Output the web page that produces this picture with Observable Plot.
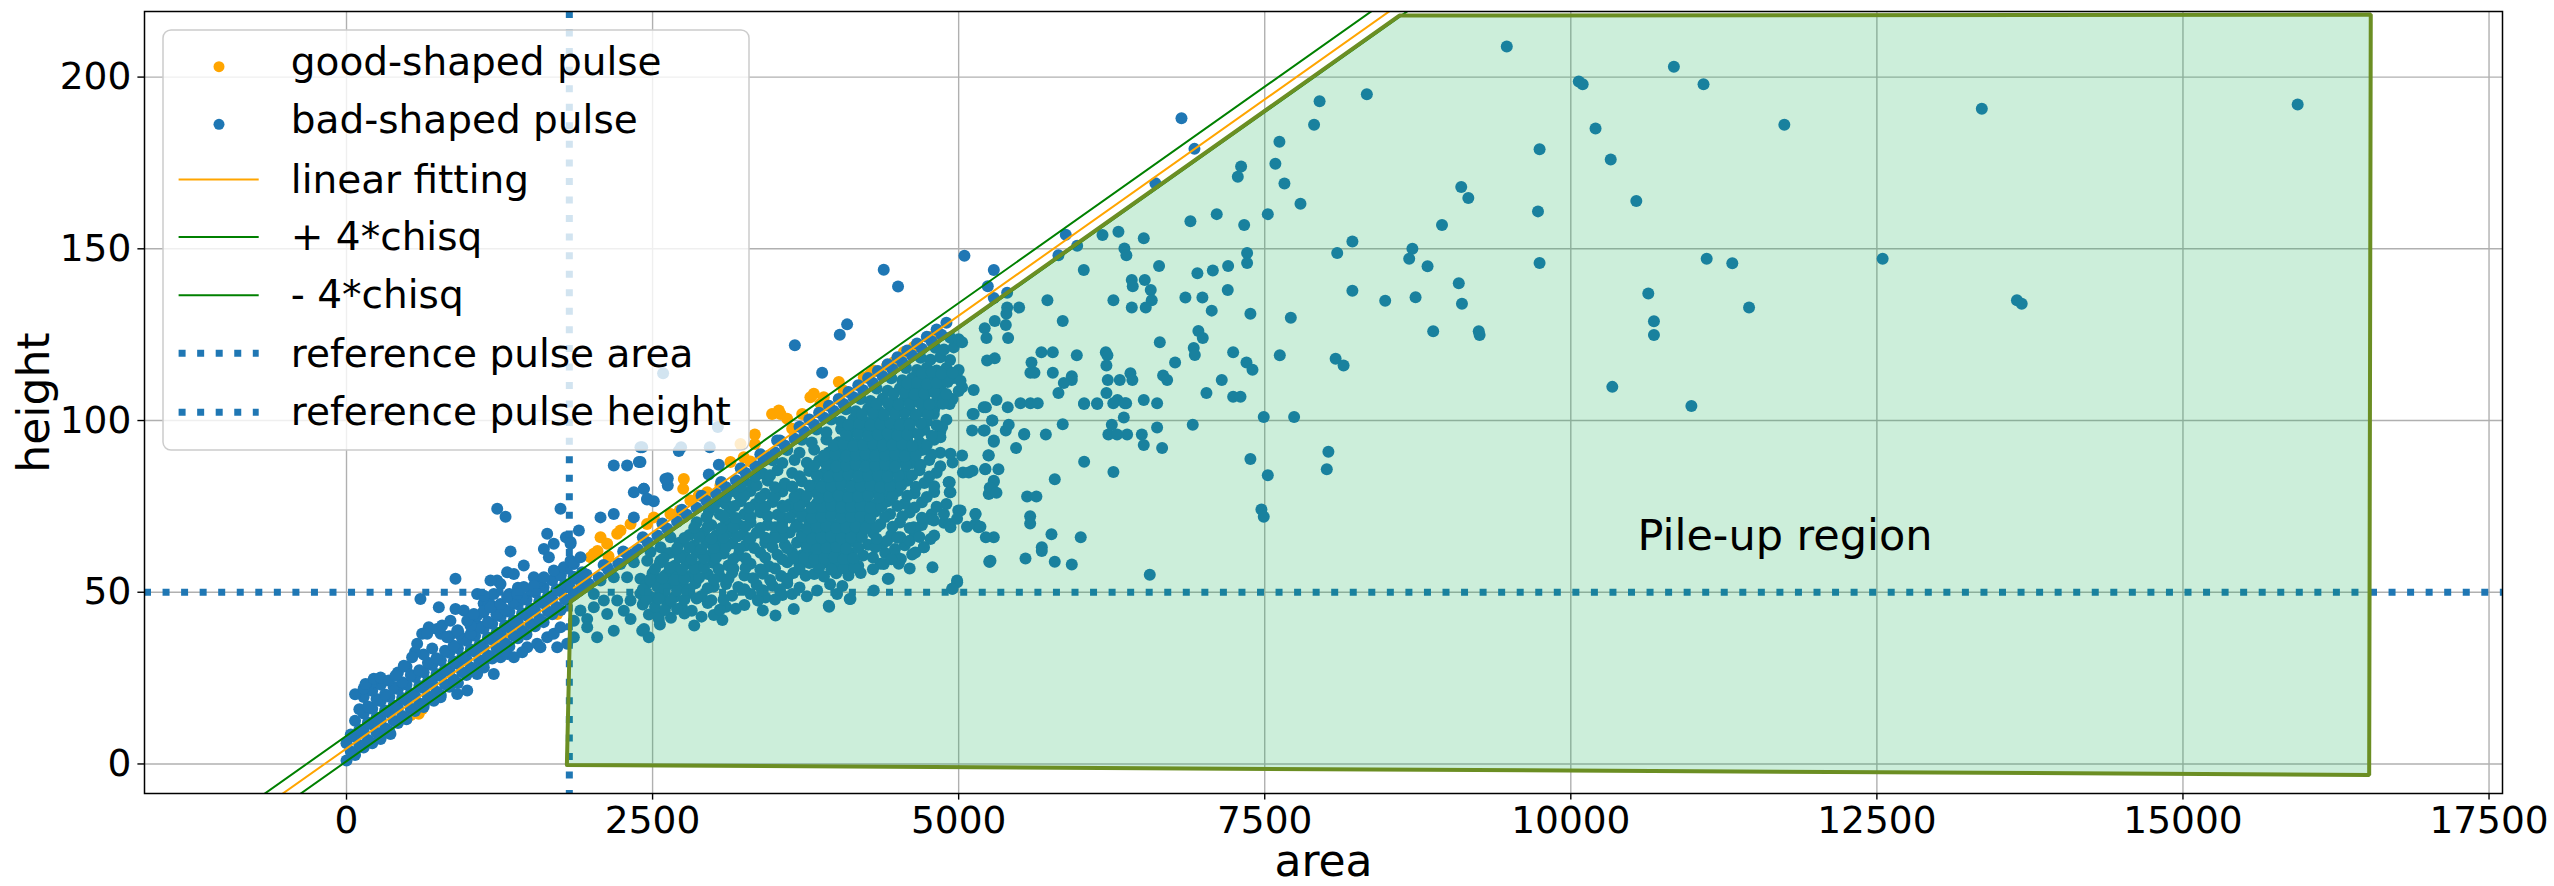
<!DOCTYPE html>
<html><head><meta charset="utf-8">
<script src="https://cdn.jsdelivr.net/npm/d3@7"></script>
<script src="https://cdn.jsdelivr.net/npm/@observablehq/plot@0.6"></script>
<style>
html,body{margin:0;padding:0;background:#fff;}
#wrap{position:relative;width:2554px;height:886px;font-family:"DejaVu Sans",sans-serif;}
#wrap svg{display:block;}
#legend{position:absolute;left:0;top:0;pointer-events:none;}
</style></head>
<body><div id="wrap"></div>
<script>
// ---- axis ticks ----
const xTicks = [0, 2500, 5000, 7500, 10000, 12500, 15000, 17500];
const yTicks = [0, 50, 100, 150, 200];

// ---- fit parameters ----
const fitSlope = 0.0252, fitIntercept = 4.5, chisqBand = 3.7;
const fitAreaRange = [-1650, 9000];
const refArea = 1820, refHeight = 50;

// ---- pile-up polygon (area, height) ----
const pileupPolygon = [[1800,-0.3],[1830,47.3],[8600,217.9],[16534,218.2],[16521,-3.2],[1800,-0.3]];
const pileupLabel = [{area:10545, height:66.2, text:"Pile-up region"}];

// ---- good-shaped pulses ----
const goodPts = [[523,14.2],[560,15.3],[590,14.6],[618,16.0],[580,16.6],
[1122,30.1],[1231,33.0],[1285,35.0],[1299,37.9],[1367,37.9],[1435,39.3],[1503,40.3],[1584,41.7],[1721,43.7],
[1993,60.2],[2020,61.2],[2050,62.0],[2075,66.0],[2129,64.1],[2140,60.5],[2211,67.0],[2238,68.0],[2320,69.9],[2455,69.9],[2510,71.8],[2646,72.8],[2722,73.8],[2755,71.8],[2755,83.0],[2750,80.1],[2809,76.7],[2877,78.2],[2946,79.1],[3054,81.1],[3136,87.9],[3245,89.3],[3299,88.1],[3335,95.9],[3335,93.2],[3476,101.9],[3545,101.9],[3599,100.5],[3531,102.9],[3640,97.6],[3722,101.9],[3789,106.8],[3817,107.8],[3871,104.9],[3898,106.8],[4021,111.2],[4062,108.7],[4225,112.6],[4279,113.6],[4307,114.6],[4416,116.0],[4470,117.0],[4552,119.9],[4633,121.4],[4770,124.3],[4824,125.2],[3218,93.2]];

// ---- bad-shaped pulses: dense band along the fit, area 0-2000 ----
const badLowBand = [
[0,1.0],[70,2.6],[140,4.8],[210,6.0],[280,8.3],[350,9.5],[420,11.9],[490,13.0],[560,15.4],[630,16.6],[700,18.9],[770,20.1],[840,22.5],[910,23.6],[980,25.9],[1050,27.2],[1120,29.5],[1190,30.7],[1260,33.1],[1330,34.2],[1400,36.6],[1470,37.7],[1540,40.1],[1610,41.3],[1680,43.6],[1750,44.8],
[35,3.6],[105,5.5],[175,7.0],[245,9.1],[315,10.4],[385,12.6],[455,14.0],[525,16.1],[595,17.5],[665,19.7],[735,21.0],[805,23.2],[875,24.6],[945,26.7],[1015,28.1],[1085,30.2],[1155,31.6],[1225,33.8],[1295,35.1],[1365,37.3],[1435,38.7],[1505,40.8],[1575,42.2],[1645,44.4],[1715,45.7],[1785,47.9],[1855,49.3],[1925,51.4],
[0,6.0],[70,7.9],[140,9.4],[210,11.5],[280,12.9],[350,15.0],[420,16.4],[490,18.5],[560,19.9],[630,22.1],[700,23.4],[770,25.6],[840,27.0],[910,29.1],[980,30.5],[1050,32.7],[1120,34.0],[1190,36.2],[1260,37.6],[1330,39.7],[1400,41.1],[1470,43.2],[1540,44.6],[1610,46.8],[1680,48.1],[1750,50.3],[1820,51.7],[1890,53.8],[1960,55.2],
[35,8.6],[105,10.0],[175,12.1],[245,13.5],[315,15.6],[385,17.0],[455,19.2],[525,20.5],[595,22.7],[665,24.1],[735,26.2],[805,27.6],[875,29.8],[945,31.1],[1015,33.3],[1085,34.6],[1155,36.8],[1225,38.2],[1295,40.3],[1365,41.7],[1435,43.9],[1505,45.2],[1575,47.4],[1645,48.8],[1715,50.9],[1785,52.3],[1855,54.5],[1925,55.8],
[70,12.6],[140,14.7],[210,16.1],[280,18.3],[350,19.6],[420,21.8],[490,23.1],[560,25.3],[630,26.7],[700,28.8],[770,30.2],[840,32.4],[910,33.7],[980,35.9],[1050,37.3],[1120,39.4],[1190,40.8],[1260,43.0],[1330,44.3],[1400,46.5],[1470,47.8],[1540,50.0],[1610,51.4],[1680,53.5],[1750,54.9],
[105,15.9],[175,16.7],[245,18.9],[315,20.2],[385,22.4],[455,23.8],[525,25.9],[595,27.3],[665,29.5],[735,30.8],[805,33.0],[875,34.4],[945,36.5],[1015,37.9],[1085,40.0],[1155,41.4],[1225,43.6],[1295,44.9],[1365,47.1],[1435,48.5],[1505,50.6],[1575,52.0],
[140,19.5],[210,21.3],[280,23.1],[420,26.6],[490,28.3],[630,31.9],[700,33.6],[840,37.2],[910,38.9],[1050,42.5],[1120,44.2],[1190,46.0],[1330,49.5],[1400,51.3],
[70,20.3],[140,22.0],[210,23.8],[560,32.6],[770,37.9],[1120,46.7]];

// ---- bad-shaped pulses: scatter above / below the low band ----
const badLowScatter = [[155,23.3],[223,24.8],[278,25.2],[346,24.3],[400,25.7],[468,28.6],[536,31.1],[577,35.0],[618,37.9],[672,39.8],[740,39.3],[781,40.3],[604,48.0],[754,45.6],[890,53.9],[890,45.1],[958,44.7],[849,41.7],[917,37.9],[1013,40.3],[1067,43.2],[1122,44.6],[1162,47.1],[1203,49.5],[1067,49.5],[1122,49.0],[1230,53.4],[1258,52.4],[1312,55.8],[1367,55.3],[1448,57.8],[1231,74.3],[1299,72.0],[1340,61.9],[1639,67.0],[1612,62.6],[1693,64.1],[1653,60.2],[1748,74.3],[1830,64.6],[1898,68.0],[1584,53.4],[1530,54.4],[1176,53.4],[659,37.9],[822,36.9],[904,38.8],[986,41.7],[1040,43.7],[1176,45.6],[1258,46.6],[1312,48.6],[1394,49.5],[1448,51.5],[1530,51.9],[1612,54.4],[1693,56.3],[1775,57.3],[1830,59.2],[1857,58.2],[1911,60.2],[1792,66.0],[1830,64.1],
[768,19.4],[904,20.4],[1067,26.2],[1122,28.1],[1258,31.1],[1312,32.0],[1367,31.1],[1476,34.0],[1557,35.0],[1639,36.9],[1693,37.9],[1721,34.0],[1748,39.8],[359,8.7],[278,7.3],[632,17.5],[713,18.4],[986,21.4],[1203,26.2],[1435,32.5],[1584,34.0],[1802,35.0],[1857,36.9]];

// ---- bad-shaped pulses: band along fit, area 1900-5000 ----
const badMidBand = [[1900,50.4],[1980,52.4],[2060,54.4],[2140,56.4],[2220,58.4],[2300,60.5],[2380,62.5],[2460,64.5],[2540,66.5],[2620,68.5],[2700,70.5],[2780,72.6],[2860,74.6],[2940,76.6],[3020,78.6],[3100,80.6],[3180,82.6],[3260,84.7],[3340,86.7],[3420,88.7],[3500,90.7],[3580,92.7],[3660,94.7],[3740,96.7],[3820,98.8],[3900,100.8],[3980,102.8],[4060,104.8],[4140,106.8],[4220,108.8],[4300,110.9],[4380,112.9],[4460,114.9],[4540,116.9],[4620,118.9],[4700,120.9],[4780,123.0],[4860,125.0],
[1940,53.9],[2100,57.9],[2260,61.9],[2420,66.0],[2580,70.0],[2740,74.0],[2900,78.1],[3060,82.1],[3220,86.1],[3380,90.2],[3540,94.2],[3700,98.2],[3780,100.3],[3860,102.3],[3940,104.3],[4020,106.3],[4100,108.3],[4180,110.3],[4260,112.4],[4340,114.4],[4420,116.4],[4500,118.4],[4580,120.4],[4660,122.4],[4740,124.4],[4820,126.5],[4900,128.5]];

// ---- bad-shaped pulses: outliers above the fit ----
const badAbove = [[2401,87.9],[2428,80.1],[2455,77.0],[2510,76.5],[2624,83.2],[2624,81.1],[2733,92.2],[2714,91.1],[2586,113.8],[3033,98.1],[2967,92.2],[2401,92.2],[2959,84.3],[3041,87.1],[3430,89.5],[3408,88.3],[3517,94.2],[3662,121.9],[3885,113.9],[4089,128.0],[4029,125.0],[4388,143.9],[4505,139.0],[5047,148.0],[5287,143.8],[5238,139.1],[5287,135.7],[5396,137.2],[2347,79.1],[2429,80.1],[2456,77.2],[2605,83.0],[2075,71.8],[2183,72.8],[2347,71.8],[2183,86.9],[2292,86.9],[2388,87.9],[2415,92.2]];

// ---- bad-shaped pulses: dense cloud inside the pile-up region ----
const badCloud = [[1857,41.7],[1966,42.2],[2047,36.9],[1966,39.8],[2183,38.8],[2320,42.2],[2415,38.8],[2469,36.9],[2551,42.2],[2020,49.5],[2102,47.6],[2211,47.6],[2320,47.6],[2429,48.5],[2537,48.5],[2075,53.4],[2183,54.4],[2292,54.4],[2401,53.9],[2510,53.4],[2619,55.3],[2129,57.3],[2238,58.2],[2347,58.7],[2456,59.2],[2565,59.2],[2619,61.2],[2347,61.2],[2483,61.7],[2565,63.1],[2020,45.6],[1911,44.7],[2129,43.7],[2265,44.6],[2646,66.0],
[2430,39.3],[2560,40.6],[2840,40.3],[3070,41.9],
[2470,43.5],[2550,43.2],[2650,42.6],[2760,43.8],[2900,42.9],[3000,43.4],[3504,43.2],
[2420,46.4],[2520,45.7],[2620,46.6],[2740,45.6],[2950,46.9],[3100,45.8],[3250,46.3],[3653,45.1],[3939,46.1],
[2400,49.6],[2480,48.7],[2580,49.3],[2680,48.6],[2800,49.8],[2900,48.9],[3150,49.0],[3300,49.5],[3422,48.5],[3560,49.2],[3640,49.5],[3760,48.8],[4007,49.5],[4110,48.0],
[2450,52.3],[2540,51.6],[2650,52.5],[2750,51.8],[2850,52.6],[3000,51.7],[3100,52.4],[3200,51.5],[3350,52.2],[3480,51.9],[3600,52.6],[3700,51.4],[3844,50.5],[3950,52.3],[4050,51.8],[4307,50.5],[4947,51.0],
[2500,55.5],[2600,54.8],[2700,55.6],[2800,54.7],[2950,55.3],[3050,54.6],[3150,55.7],[3250,54.9],[3400,55.4],[3550,54.7],[3650,55.6],[3750,54.8],[3820,55.3],[3900,54.6],[4000,55.5],[4100,54.9],[4200,55.6],[4429,53.9],[4987,53.4],
[2560,58.6],[2680,57.7],[2780,58.4],[2880,57.6],[3000,58.5],[3120,57.8],[3300,58.3],[3450,57.6],[3600,58.7],[3700,57.9],[3780,58.5],[3860,57.6],[3940,58.4],[4020,57.8],[4100,58.6],[4180,57.7],[4361,58.3],[4511,58.3],[5250,58.9],
[2640,61.4],[2760,60.8],[2860,61.5],[2960,60.6],[3080,61.3],[3200,60.7],[3380,61.5],[3520,60.9],[3640,61.6],[3720,60.8],[3800,61.4],[3880,60.6],[3960,61.5],[4040,60.8],[4120,61.3],[4220,60.7],[4400,61.4],[4620,61.0],[4497,60.2],
[2720,64.4],[2840,63.6],[2940,64.5],[3040,63.7],[3150,64.3],[3260,63.6],[3420,64.4],[3580,63.8],[3680,64.5],[3760,63.6],[3840,64.3],[3920,63.7],[4000,64.5],[4080,63.6],[4160,64.4],[4260,63.8],[4380,64.2],[4560,63.7],[4715,63.1],
[2800,66.7],[2920,67.4],[3020,66.6],[3130,67.5],[3240,66.8],[3350,67.3],[3500,66.6],[3620,67.4],[3720,66.7],[3800,67.5],[3880,66.6],[3960,67.3],[4040,66.8],[4120,67.4],[4200,66.6],[4300,67.3],[4450,66.7],[4640,67.2],[4800,66.5],
[2860,70.4],[2980,69.6],[3100,70.5],[3200,69.7],[3300,70.3],[3440,69.6],[3560,70.4],[3680,69.8],[3780,70.5],[3860,69.6],[3940,70.3],[4020,69.7],[4100,70.4],[4180,69.6],[4260,70.5],[4360,69.8],[4520,70.3],[4700,69.6],[4880,70.2],
[2960,73.4],[3050,72.6],[3130,73.5],[3250,72.7],[3380,73.3],[3520,72.6],[3660,73.4],[3760,72.8],[3840,73.5],[3920,72.6],[4000,73.3],[4080,72.7],[4160,73.4],[4240,72.6],[4320,73.5],[4440,72.8],[4600,73.2],[4780,72.7],
[3040,76.4],[3100,75.6],[3220,76.5],[3340,75.7],[3480,76.3],[3620,75.6],[3740,76.4],[3840,75.8],[3920,76.5],[4000,75.6],[4080,76.3],[4160,75.7],[4240,76.4],[4320,75.6],[4420,76.5],[4560,75.8],[4700,76.2],[4900,75.7],
[3140,79.4],[3200,78.6],[3300,79.5],[3420,78.7],[3560,79.3],[3700,78.6],[3820,79.4],[3900,78.8],[3980,79.5],[4060,78.6],[4140,79.3],[4220,78.7],[4300,79.4],[4400,78.6],[4500,79.5],[4640,78.8],[4800,79.2],
[3250,82.4],[3320,81.6],[3440,82.5],[3580,81.7],[3720,82.3],[3840,81.6],[3920,82.4],[4000,81.8],[4080,82.5],[4160,81.6],[4240,82.3],[4320,81.7],[4400,82.4],[4480,81.6],[4580,82.5],[4720,81.8],[4919,82.0],
[3360,85.4],[3400,84.6],[3520,85.5],[3640,84.7],[3780,85.3],[3900,84.6],[3980,85.4],[4060,84.8],[4140,85.5],[4220,84.6],[4300,85.3],[4380,84.7],[4460,85.4],[4560,84.6],[4680,85.5],[4820,84.8],
[3480,88.4],[3560,87.6],[3660,88.5],[3760,87.7],[3860,88.3],[3960,87.6],[4040,88.4],[4120,87.8],[4200,88.5],[4280,87.6],[4360,88.3],[4440,87.7],[4520,88.4],[4620,87.6],[4760,88.5],[4950,87.8],
[3600,91.4],[3700,90.6],[3820,91.5],[3940,90.7],[4040,91.3],[4120,90.6],[4200,91.4],[4280,90.8],[4360,91.5],[4440,90.6],[4520,91.3],[4600,90.7],[4700,91.4],[4850,90.6],
[3720,94.4],[3800,93.6],[3920,94.5],[4020,93.7],[4100,94.3],[4180,93.6],[4260,94.4],[4340,93.8],[4420,94.5],[4500,93.6],[4580,94.3],[4680,93.7],[4800,94.4],
[3840,97.4],[3920,96.6],[4040,97.5],[4140,96.7],[4220,97.3],[4300,96.6],[4380,97.4],[4460,96.8],[4540,97.5],[4620,96.6],[4720,97.3],[4850,96.7],
[3960,100.3],[4040,99.7],[4140,100.4],[4240,99.6],[4320,100.3],[4400,99.7],[4480,100.4],[4560,99.6],[4640,100.3],[4740,99.7],[4900,100.2],
[4080,103.3],[4160,102.7],[4260,103.4],[4350,102.6],[4440,103.3],[4520,102.7],[4600,103.4],[4700,102.6],[4800,103.3],
[4200,106.3],[4280,105.7],[4380,106.4],[4470,105.6],[4560,106.3],[4640,105.7],[4720,106.4],[4820,105.6],[4950,106.3],
[4330,109.3],[4420,108.7],[4520,109.4],[4600,108.6],[4680,109.3],[4760,108.7],[4850,109.4],[5000,108.6],
[4450,112.3],[4540,111.7],[4620,112.4],[4700,111.6],[4780,112.3],[4870,111.7],[4960,112.4],
[4570,115.3],[4660,114.7],[4740,115.4],[4820,114.6],[4900,115.3],[5000,114.7],
[4690,118.3],[4770,117.7],[4850,118.4],[4930,117.6],
[4810,121.2],[4880,120.7],[4960,121.3],
[4930,124.2],[5000,123.7],
[4927,104.8],[5114,101.9],[5114,85.4],[5035,84.9],[4927,82.0],[4927,79.1],[4997,73.8],[5138,72.8],[4927,69.9],[5068,69.1],[5161,68.9],[4988,52.9],[4950,51.0],[4786,57.3],[4716,63.1],[4763,71.3],[4880,72.8],[4116,48.0],[3942,45.8],[4421,53.9],[4388,58.2],[4528,59.7],[4646,61.6],[4599,65.0],[4646,67.9],[4505,66.0],
[5028,122.8],[5123,108.9],[5232,117.5],[5205,103.9],[5273,100.0],[5205,97.1],[5287,94.2],[5246,89.8],[5219,85.9],[5287,82.5],[5246,78.6],[5123,101.9],[5110,97.1],[5028,89.8],[5083,84.9],[4919,82.0],[4933,79.1],[5015,73.8],[5137,72.8],[5137,69.9],[5287,66.0],[5260,59.2],[4987,71.4],[4933,68.9],[4797,70.9],[4770,65.5],[4633,68.9],[4524,66.0],[4416,65.0],[4865,98.1],[4797,101.9],[4933,90.3],[4851,95.1],[4906,112.6],[4865,107.8],[5028,109.7],[5015,111.6]];

// ---- bad-shaped pulses: in-between dots of the left cloud (2400-3600) ----
const badLeftFill = [[2600,44.8],[2700,45.1],[2820,44.6],[3050,44.9],[3180,45.2],[3400,44.7],
[2450,47.8],[2550,48.1],[2650,47.6],[2760,47.9],[2860,48.2],[2980,47.7],[3080,47.9],[3360,47.6],[3500,47.9],
[2420,50.8],[2600,51.1],[2700,50.6],[2800,50.9],[2950,51.2],[3250,50.9],[3400,50.6],[3540,50.8],
[2480,53.8],[2580,54.1],[2680,53.6],[2760,53.9],[2880,54.2],[3000,53.7],[3120,53.9],[3320,54.1],[3460,53.6],[3600,53.9],
[2520,56.8],[2640,57.1],[2740,56.6],[2840,56.9],[2920,57.2],[3040,56.7],[3160,56.9],[3260,57.1],[3380,56.6],[3500,56.9],
[2590,59.8],[2720,60.1],[2820,59.6],[2920,59.9],[3020,60.2],[3160,59.7],[3260,59.9],[3420,60.1],[3560,59.6],
[2700,62.8],[2800,63.1],[2900,62.6],[3000,62.9],[3100,63.2],[3210,62.7],[3330,62.9],[3480,63.1],
[2760,65.8],[2880,66.1],[2980,65.6],[3080,65.9],[3190,66.2],[3300,65.7],[3420,65.9],[3560,66.1],
[2840,68.8],[2950,69.1],[3060,68.6],[3160,68.9],[3260,69.2],[3380,68.7],[3500,68.9],
[2940,71.8],[3080,72.1],[3180,71.6],[3300,71.9],[3440,72.2],[3560,71.7],
[3000,74.8],[3170,75.1],[3290,74.6],[3420,74.9],[3560,75.2],
[3100,77.8],[3250,78.1],[3380,77.6],[3500,77.9],
[3220,80.8],[3350,81.1],[3500,80.6],
[3340,83.8],[3460,84.1]];

// ---- bad-shaped pulses: densest plume (3500-5000), in-between dots ----
const badPlume = [[3700,56.8],[3860,57.1],[3960,56.6],[4060,56.9],[4150,57.2],[4300,56.7],[4600,56.9],
[3650,59.8],[3740,60.1],[3820,59.6],[3900,59.9],[3980,60.2],[4060,59.7],[4140,59.9],[4300,60.1],[4450,59.6],
[3600,62.8],[3760,63.1],[3840,62.6],[3920,62.9],[4000,63.2],[4080,62.7],[4180,62.9],[4320,63.1],[4480,62.6],
[3500,65.8],[3720,66.1],[3800,65.6],[3880,65.9],[3960,66.2],[4040,65.7],[4120,65.9],[4210,66.1],[4330,65.6],[4500,65.9],[4680,66.1],
[3560,68.8],[3670,69.1],[3760,68.6],[3840,68.9],[3920,69.2],[4000,68.7],[4080,68.9],[4160,69.1],[4240,68.6],[4330,68.9],[4460,69.1],[4600,68.7],
[3620,71.8],[3720,72.1],[3800,71.6],[3880,71.9],[3960,72.2],[4040,71.7],[4120,71.9],[4200,72.1],[4280,71.6],[4400,71.9],[4540,72.1],[4700,71.7],
[3580,74.8],[3700,75.1],[3800,74.6],[3880,74.9],[3960,75.2],[4040,74.7],[4120,74.9],[4200,75.1],[4280,74.6],[4370,74.9],[4500,75.1],[4640,74.7],[4820,74.9],
[3660,77.8],[3760,78.1],[3860,77.6],[3940,77.9],[4020,78.2],[4100,77.7],[4180,77.9],[4260,78.1],[4350,77.6],[4460,77.9],[4580,78.1],[4740,77.7],
[3640,80.8],[3780,81.1],[3880,80.6],[3960,80.9],[4040,81.2],[4120,80.7],[4200,80.9],[4280,81.1],[4360,80.6],[4440,80.9],[4530,81.1],[4650,80.7],[4800,80.9],
[3700,83.8],[3840,84.1],[3940,83.6],[4020,83.9],[4100,84.2],[4180,83.7],[4260,83.9],[4340,84.1],[4420,83.6],[4510,83.9],[4620,84.1],[4760,83.7],
[3820,86.8],[3920,87.1],[4000,86.6],[4080,86.9],[4160,87.2],[4240,86.7],[4320,86.9],[4400,87.1],[4480,86.6],[4570,86.9],[4690,87.1],[4850,86.7],
[3900,89.8],[3990,90.1],[4080,89.6],[4160,89.9],[4240,90.2],[4320,89.7],[4400,89.9],[4480,90.1],[4560,89.6],[4650,89.9],[4780,90.1],
[3980,92.8],[4060,93.1],[4140,92.6],[4220,92.9],[4300,93.2],[4380,92.7],[4460,92.9],[4540,93.1],[4620,92.6],[4740,92.9],
[4080,95.8],[4180,96.1],[4260,95.6],[4340,95.9],[4420,96.2],[4500,95.7],[4580,95.9],[4670,96.1],[4780,95.6],
[4100,98.8],[4190,99.1],[4280,98.6],[4360,98.9],[4440,99.2],[4520,98.7],[4600,98.9],[4690,99.1],[4820,98.6],
[4210,101.8],[4300,102.1],[4390,101.6],[4480,101.9],[4560,102.2],[4650,101.7],[4750,101.9],
[4330,104.8],[4420,105.1],[4510,104.6],[4600,104.9],[4680,105.2],[4760,104.7],[4870,104.9],
[4470,107.8],[4560,108.1],[4640,107.6],[4720,107.9],[4800,108.2],[4900,107.7],
[4580,110.8],[4660,111.1],[4740,110.6],[4820,110.9],[4910,111.2],
[4700,113.8],[4780,114.1],[4860,113.6],[4950,113.9]];

// ---- bad-shaped pulses: sparse points, area > 5000 ----
const badSparse = [[7620,181.2],[7587,174.8],[7307,174.0],[7280,171.0],[7661,169.0],[7525,160.1],[7108,160.1],[6893,158.0],[7332,156.9],[6820,188.0],[6926,179.1],[6607,169.1],[5875,154.1],[5815,148.1],[5968,150.9],[6175,154.0],[6305,155.0],[6512,153.1],[6354,150.1],[6370,148.1],[6637,145.0],[7356,148.8],[7356,145.9],[7713,129.9],[7623,119.0],[7201,145.0],[7076,143.7],[6950,142.9],[7198,138.0],[7383,131.1],[7067,132.0],[6991,135.8],[6852,135.8],[6520,140.9],[6414,140.9],[6422,139.1],[6414,132.9],[6569,138.0],[6577,135.0],[6528,132.9],[6264,135.0],[6022,143.8],[5725,135.0],[5850,129.0],[5494,132.9],[5396,132.9],[5390,131.1],[5385,127.8],[5404,124.0],[5295,129.0],[5213,126.9],[5227,124.0],[5295,118.1],[6958,126.1],[6994,124.0],[6643,122.8],[6920,121.1],[6929,119.1],[7242,119.9],[7351,116.9],[7400,114.8],[6768,116.9],[6670,113.1],[6703,111.8],[7149,111.8],[7024,108.0],[7242,106.9],[7302,106.9],[5676,119.9],[5769,119.9],[5595,116.9],[5586,113.9],[5619,113.9],[5769,113.9],[5965,119.0],[6202,119.9],[6215,119.0],[6207,116.0],[5924,112.9],[5924,111.8],[5859,110.9],[5815,108.0],[6218,111.8],[6316,111.8],[6403,113.8],[6419,111.8],[6207,108.0],[6297,106.0],[6368,105.0],[6512,106.0],[6621,105.0],[6025,105.0],[6131,105.0],[5505,105.0],[5586,105.0],[5646,105.0],[5309,106.0],[5401,103.9],[5222,103.9],[5276,100.0],[5213,97.1],[5385,97.1],[5409,98.8],[5287,93.8],[5243,89.9],[5216,85.8],[5325,85.8],[5287,82.1],[5254,80.4],[5309,79.0],[5535,95.9],[5469,92.0],[5712,95.9],[5850,98.9],[6025,88.0],[5785,82.9],[5559,77.9],[5635,77.9],[5584,72.1],[5584,70.0],[5758,66.9],[5679,63.1],[5679,62.0],[5546,59.8],[5785,58.9],[5924,58.1],[5997,66.0],[5222,66.0],[5254,58.9],[5178,69.1],[6251,98.8],[6223,95.9],[6294,95.9],[6376,95.9],[6349,100.9],[6496,95.9],[6512,92.9],[6621,98.0],[6662,92.0],[6912,98.8],[6264,85.0],[6561,55.1],[7492,101.0],[7740,101.0],[7383,88.8],[7525,84.1],[7473,74.1],[7492,72.0],[8020,90.9],[8007,85.8],[6024,104.8],[6132,104.8],[6263,105.0],[6357,105.0],[5536,96.1],
[9477,208.9],[10842,203.0],[10065,198.7],[10097,197.9],[11084,197.9],[8334,195.0],[7948,193.0],[7903,186.1],[13357,190.8],[15937,192.0],[10202,185.0],[11744,186.1],[9745,179.0],[10326,176.0],[9105,168.0],[9163,164.8],[10535,163.9],[9732,160.9],[7792,163.1],[8948,156.9],[8216,152.1],[8092,148.8],[8706,150.0],[8680,147.1],[8830,144.9],[9745,145.9],[11110,147.1],[11319,145.8],[12547,147.1],[9085,140.0],[8216,137.8],[8484,134.9],[8732,135.9],[9111,134.0],[10633,137.0],[11456,132.9],[13644,135.0],[13683,134.0],[8876,126.0],[9248,126.0],[9255,124.9],[10679,128.9],[10679,124.9],[8079,118.0],[8144,116.0],[10339,109.8],[10985,104.2]];

// ---- derived tables ----
const toRows = arr => arr.map(([area, height]) => ({area, height}));
const good = toRows(goodPts);
const bad = toRows([...badLowBand, ...badLowScatter, ...badMidBand, ...badAbove, ...badCloud, ...badLeftFill, ...badPlume, ...badSparse]);
const fitLine = fitAreaRange.map(a => ({area: a, height: fitIntercept + fitSlope * a}));
const upperLine = fitLine.map(d => ({area: d.area, height: d.height + chisqBand}));
const lowerLine = fitLine.map(d => ({area: d.area, height: d.height - chisqBand}));
const polygon = toRows(pileupPolygon);

const C0 = "#1f77b4", ORANGE = "#ffa500", GREEN = "#008000";
const dotted = "7 11.55";
const R = 6;

const chart = Plot.plot({
  width: 2554, height: 886,
  marginLeft: 144, marginRight: 52, marginTop: 11, marginBottom: 93,
  x: {domain: [-1650, 17610], label: null},
  y: {domain: [-8.6, 219.1], label: null},
  style: {fontFamily: "DejaVu Sans", fontSize: "37.5px", background: "white", color: "black"},
  marks: [
    Plot.gridX(xTicks, {stroke: "#b0b0b0", strokeOpacity: 1, strokeWidth: 1.4}),
    Plot.gridY(yTicks, {stroke: "#b0b0b0", strokeOpacity: 1, strokeWidth: 1.4}),
    Plot.dot(good, {x: "area", y: "height", r: R, fill: ORANGE, stroke: null}),
    Plot.dot(bad, {x: "area", y: "height", r: R, fill: C0, stroke: null}),
    Plot.line(fitLine, {x: "area", y: "height", stroke: ORANGE, strokeWidth: 2, clip: true}),
    Plot.line(upperLine, {x: "area", y: "height", stroke: GREEN, strokeWidth: 2, clip: true}),
    Plot.line(lowerLine, {x: "area", y: "height", stroke: GREEN, strokeWidth: 2, clip: true}),
    Plot.ruleX([refArea], {stroke: C0, strokeWidth: 7, strokeDasharray: dotted}),
    Plot.ruleY([refHeight], {stroke: C0, strokeWidth: 7, strokeDasharray: dotted}),
    Plot.line(polygon, {x: "area", y: "height", fill: "#06ac4b", fillOpacity: 0.205, stroke: "#6b8e23", strokeWidth: 4, strokeLinejoin: "miter"}),
    Plot.text(pileupLabel, {x: "area", y: "height", text: "text", textAnchor: "start", lineAnchor: "middle", fontSize: 43, fill: "black"}),
    Plot.frame({stroke: "black", strokeWidth: 1.5}),
    Plot.axisX(xTicks, {tickSize: 6.6, tickPadding: 6.6, strokeWidth: 1.4, label: null, fontSize: 37.5, tickFormat: d => String(d)}),
    Plot.axisY(yTicks, {tickSize: 6.6, tickPadding: 6.6, strokeWidth: 1.4, label: null, fontSize: 37.5, tickFormat: d => String(d)}),
    Plot.text(["area"], {frameAnchor: "bottom", dy: 68, fontSize: 44, textAnchor: "middle", lineAnchor: "middle"}),
    Plot.text(["height"], {frameAnchor: "left", rotate: -90, dx: -110, fontSize: 44, textAnchor: "middle", lineAnchor: "middle"})
  ]
});
const wrap = document.getElementById("wrap");
wrap.appendChild(chart);

// ---- legend (overlay, semi-transparent box like matplotlib) ----
const legendItems = [
  {label: "good-shaped pulse", kind: "dot", color: ORANGE, y: 66.7, base: 75},
  {label: "bad-shaped pulse", kind: "dot", color: C0, y: 124.3, base: 133.3},
  {label: "linear fitting", kind: "line", color: ORANGE, y: 179.5, base: 192.7},
  {label: "+ 4*chisq", kind: "line", color: GREEN, y: 237, base: 250},
  {label: "- 4*chisq", kind: "line", color: GREEN, y: 295.3, base: 308.3},
  {label: "reference pulse area", kind: "dotted", color: C0, y: 353.3, base: 366.7},
  {label: "reference pulse height", kind: "dotted", color: C0, y: 412.3, base: 425}
];
const ns = "http://www.w3.org/2000/svg";
const lg = document.createElementNS(ns, "svg");
lg.setAttribute("id", "legend");
lg.setAttribute("width", 2554); lg.setAttribute("height", 886);
const box = document.createElementNS(ns, "rect");
Object.entries({x: 163, y: 30, width: 586, height: 420, rx: 8, fill: "white", "fill-opacity": 0.8, stroke: "#cccccc", "stroke-width": 1.5}).forEach(([k,v]) => box.setAttribute(k, v));
lg.appendChild(box);
for (const it of legendItems) {
  if (it.kind === "dot") {
    const c = document.createElementNS(ns, "circle");
    c.setAttribute("cx", 219); c.setAttribute("cy", it.y); c.setAttribute("r", 5.5); c.setAttribute("fill", it.color);
    lg.appendChild(c);
  } else {
    const l = document.createElementNS(ns, "line");
    l.setAttribute("x1", 178.6); l.setAttribute("x2", 258.7); l.setAttribute("y1", it.y); l.setAttribute("y2", it.y);
    l.setAttribute("stroke", it.color);
    l.setAttribute("stroke-width", it.kind === "dotted" ? 7 : 2);
    if (it.kind === "dotted") l.setAttribute("stroke-dasharray", dotted);
    lg.appendChild(l);
  }
  const t = document.createElementNS(ns, "text");
  t.setAttribute("x", 290.8); t.setAttribute("y", it.base);
  t.setAttribute("font-family", "DejaVu Sans"); t.setAttribute("font-size", 39); t.setAttribute("fill", "black");
  t.textContent = it.label;
  lg.appendChild(t);
}
lg.style.position = "absolute"; lg.style.left = "0"; lg.style.top = "0";
wrap.appendChild(lg);
</script>
</body></html>
